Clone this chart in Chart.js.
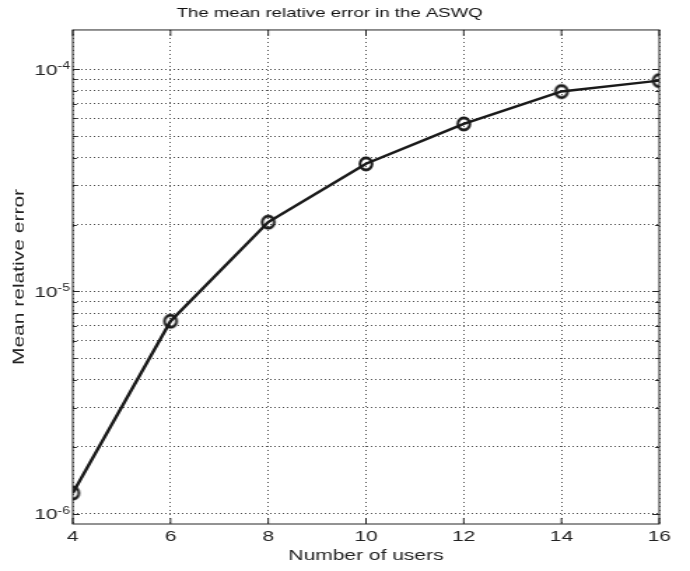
<!DOCTYPE html>
<html>
<head>
<meta charset="utf-8">
<script src="https://cdn.jsdelivr.net/npm/chart.js@4/dist/chart.umd.min.js"></script>
<style>
  html, body { margin: 0; padding: 0; background: #fff; overflow: hidden; }
  #wrap { width: 493px; height: 571px; transform-origin: 0 0; transform: scale(1.39959, 1); }
</style>
</head>
<body>
<div id="wrap"><canvas id="errChart" width="493" height="571"></canvas></div>
<script>
// data
const users = [4, 6, 8, 10, 12, 14, 16];
const meanError = [1.24e-6, 7.35e-6, 2.05e-5, 3.75e-5, 5.67e-5, 7.93e-5, 8.88e-5];
const xTicks = [4, 6, 8, 10, 12, 14, 16];
const yDecades = [1e-6, 1e-5, 1e-4];
const yDecadeExp = ['-6', '-5', '-4'];
const yMin = 9e-7, yMax = 1.5e-4;
const yTitle = 'Mean relative error';

// the figure's font is wide, so the whole canvas is drawn at 1/SX width and stretched
const SX = 1.39959;
const FAMILY = "'Liberation Sans', Arial, sans-serif";

// minor log ticks 1..9 x 10^n inside the range
const yTicks = [];
yDecades.forEach(d => {
  for (let m = 1; m <= 9; m++) {
    const v = m * d;
    if (v >= yMin && v <= yMax) yTicks.push(v);
  }
});

function isDecade(v) {
  const l = Math.log10(v);
  return Math.abs(l - Math.round(l)) < 1e-9;
}

// circle marker that stays round after the stretch
function makeMarker(r, lw) {
  const h = Math.ceil(2 * (r + lw));
  const w = Math.ceil(h / SX);
  const c = document.createElement('canvas');
  c.width = w; c.height = h;
  const g = c.getContext('2d');
  g.scale(1 / SX, 1);
  g.lineWidth = lw;
  g.strokeStyle = '#1a1a1a';
  g.beginPath();
  g.arc(w * SX / 2, h / 2, r, 0, Math.PI * 2);
  g.stroke();
  return c;
}
const marker = makeMarker(6, 2.8);

// box round the axes, inward tick marks, 10^n labels and the y title
const framePlugin = {
  id: 'frame',
  afterDraw(chart) {
    const { ctx, chartArea: a, scales } = chart;
    ctx.save();
    ctx.strokeStyle = '#262626';
    ctx.lineWidth = 1;
    ctx.strokeRect(a.left, a.top, a.right - a.left, a.bottom - a.top);
    ctx.beginPath();
    yTicks.forEach(v => {
      const y = Math.round(scales.y.getPixelForValue(v)) + 0.5;
      const len = (isDecade(v) ? 7 : 4) / SX;
      ctx.moveTo(a.left, y); ctx.lineTo(a.left + len, y);
      ctx.moveTo(a.right, y); ctx.lineTo(a.right - len, y);
    });
    xTicks.forEach(v => {
      const x = scales.x.getPixelForValue(v);
      ctx.moveTo(x, a.bottom); ctx.lineTo(x, a.bottom - 6);
      ctx.moveTo(x, a.top); ctx.lineTo(x, a.top + 6);
    });
    ctx.stroke();

    // decade labels with superscript exponent
    ctx.fillStyle = '#222';
    ctx.textAlign = 'right';
    ctx.textBaseline = 'alphabetic';
    const xr = a.left - 2;
    yDecades.forEach((d, i) => {
      const y = scales.y.getPixelForValue(d);
      ctx.font = `10px ${FAMILY}`;
      const ew = ctx.measureText(yDecadeExp[i]).width;
      ctx.fillText(yDecadeExp[i], xr, y);
      ctx.font = `15px ${FAMILY}`;
      ctx.fillText('10', xr - ew, y + 5.5);
    });

    // rotated y title, stretched along its length like the other text
    ctx.translate(14, (a.top + a.bottom) / 2);
    ctx.scale(1 / SX, SX);
    ctx.rotate(-Math.PI / 2);
    ctx.textAlign = 'center';
    ctx.textBaseline = 'middle';
    ctx.font = `15px ${FAMILY}`;
    ctx.fillText(yTitle, 0, 0);
    ctx.restore();
  }
};

const font = { family: FAMILY, size: 15 };

const ctx = document.getElementById('errChart').getContext('2d');
new Chart(ctx, {
  type: 'line',
  data: {
    datasets: [{
      label: yTitle,
      data: users.map((u, i) => ({ x: u, y: meanError[i] })),
      borderColor: '#1a1a1a',
      borderWidth: 2.4,
      pointStyle: marker,
      pointRadius: 6,
      tension: 0,
      fill: false
    }]
  },
  options: {
    responsive: false,
    animation: false,
    devicePixelRatio: 1,
    layout: { padding: { left: 0, right: 22, top: 0, bottom: 0 } },
    scales: {
      x: {
        type: 'linear',
        min: 4,
        max: 16,
        afterBuildTicks: s => { s.ticks = xTicks.map(v => ({ value: v })); },
        afterFit: s => { s.height = 47; },
        grid: { color: '#4a4a4a', lineWidth: 1, drawTicks: false },
        border: { display: false, dash: [1, 3] },
        ticks: { font, color: '#222', padding: 4, autoSkip: false, maxRotation: 0 },
        title: { display: true, text: 'Number of users', font, color: '#222', padding: { top: 0, bottom: 6 } }
      },
      y: {
        type: 'logarithmic',
        min: yMin,
        max: yMax,
        afterBuildTicks: s => { s.ticks = yTicks.map(v => ({ value: v })); },
        afterFit: s => { s.width = 52; },
        grid: { color: '#4a4a4a', lineWidth: 1, drawTicks: false },
        border: { display: false, dash: [1, 2] },
        ticks: { display: false, autoSkip: false },
        title: { display: false }
      }
    },
    plugins: {
      legend: { display: false },
      tooltip: { enabled: false },
      title: {
        display: true,
        text: 'The mean relative error in the ASWQ',
        font: { family: FAMILY, size: 13.3, weight: 'normal' },
        color: '#111',
        padding: { top: 5, bottom: 9 }
      }
    }
  },
  plugins: [framePlugin]
});
</script>
</body>
</html>
